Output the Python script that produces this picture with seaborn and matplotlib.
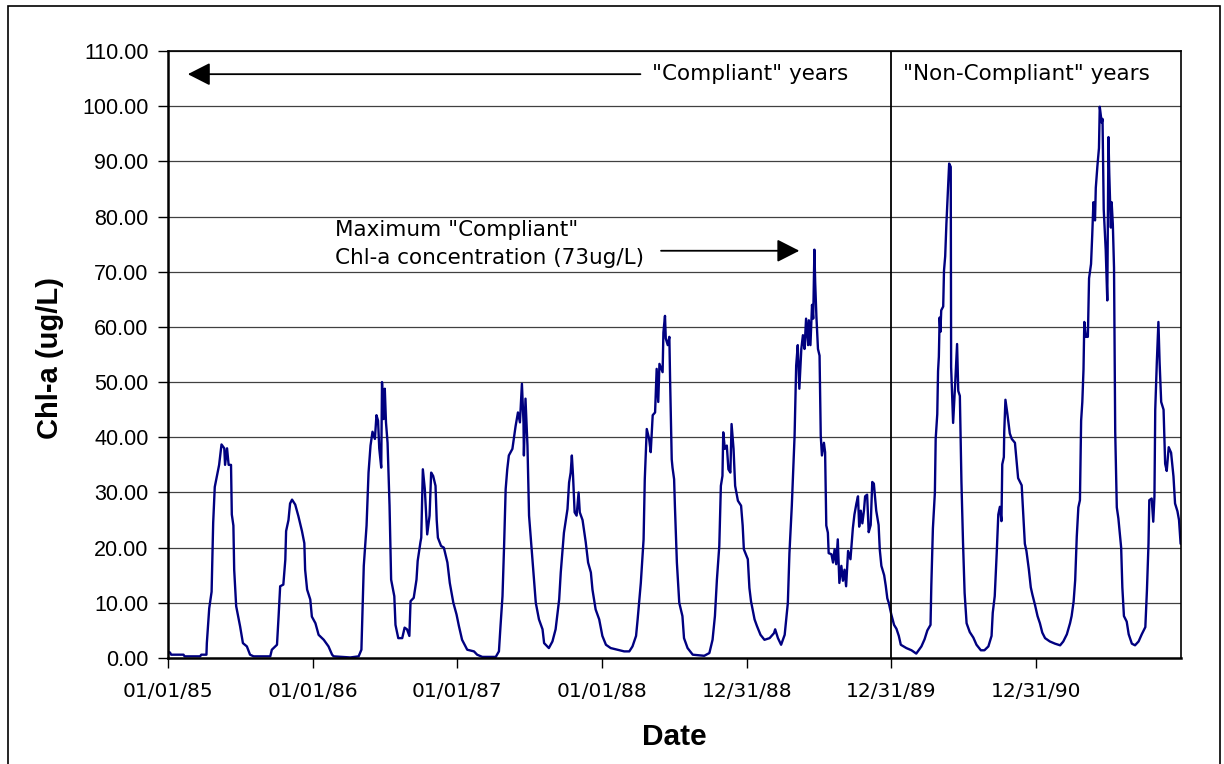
import matplotlib
matplotlib.use("Agg")
import matplotlib.pyplot as plt
import matplotlib.dates as mdates
from matplotlib.patches import Rectangle
import seaborn as sns
import pandas as pd

# ---------------- data ----------------
start_date = "1985-01-01"
days = [0, 5, 8, 39, 42, 81, 84, 97, 98, 104, 110, 114, 118, 129, 135, 142, 144, 149, 153, 159, 161, 165, 167, 172, 182, 189, 199, 207, 216, 258, 262, 275, 279, 283, 291, 296, 298, 304, 308, 313, 321, 329, 338, 344, 346, 351, 359, 363, 372, 380, 393, 405, 414,
        418, 460, 481, 488, 490, 494, 501, 506, 511, 516, 522, 526, 530, 533, 538, 540, 544, 547, 550, 554, 559, 563, 571, 574, 581, 591, 597, 603, 609, 612, 620, 627, 630, 637, 639, 643, 648, 654, 660, 664, 669, 675, 678, 681, 689, 696, 705, 711, 720, 728, 734, 742, 755, 772, 780, 793, 827, 835, 839, 844, 848, 852, 856,
        860, 869, 877, 883, 888, 893, 897, 898, 902, 907, 911, 917, 923, 928, 936, 945, 949, 961, 970, 978, 987, 991, 999, 1008, 1012, 1016, 1019, 1022, 1026, 1031, 1036, 1039, 1046, 1054, 1060, 1067, 1071, 1079, 1088, 1096, 1105, 1117, 1134, 1151, 1164, 1172, 1181, 1185, 1193, 1200, 1203, 1208, 1214, 1218, 1223, 1229, 1233, 1237, 1240, 1248, 1250, 1254, 1256, 1261, 1265, 1267,
        1271, 1273, 1277, 1279, 1284, 1290, 1298, 1302, 1311, 1324, 1353, 1366, 1374, 1380, 1385, 1391, 1395, 1399, 1401, 1405, 1410, 1414, 1419, 1422, 1427, 1431, 1438, 1446, 1450, 1453, 1463, 1467, 1471, 1480, 1486, 1495, 1505, 1518, 1529, 1532, 1539, 1547, 1556, 1564, 1568, 1574, 1581, 1585, 1589, 1593, 1598, 1602, 1606, 1610, 1615, 1617, 1621, 1625, 1628, 1631, 1633, 1636, 1640, 1644, 1647, 1650, 1655, 1658, 1661, 1665, 1667, 1674, 1678, 1682, 1686, 1690, 1694, 1699, 1703, 1707, 1711, 1716, 1722,
        1728, 1732, 1737, 1741, 1744, 1748, 1752, 1756, 1759, 1764, 1768, 1773, 1777, 1781, 1787, 1793, 1796, 1800, 1807, 1811, 1815, 1819, 1825, 1832, 1838, 1844, 1849, 1863, 1876, 1888, 1901, 1909, 1916, 1924, 1926, 1930, 1935, 1937, 1941, 1943, 1945, 1947, 1949, 1951, 1956, 1958, 1961, 1964, 1968, 1971, 1975, 1976, 1981, 1986, 1991, 1994, 1998, 2002, 2006, 2010, 2015, 2023, 2032, 2040, 2051, 2060, 2070, 2078, 2081, 2086, 2091, 2095, 2099, 2103, 2105, 2109, 2110, 2113, 2118, 2124, 2129,
        2137, 2141, 2145, 2154, 2158, 2162, 2166, 2172, 2177, 2181, 2188, 2194, 2200, 2206, 2213, 2225, 2238, 2251, 2259, 2268, 2276, 2280, 2285, 2289, 2293, 2297, 2301, 2304, 2307, 2310, 2312, 2316, 2321, 2324, 2329, 2332, 2335, 2339, 2341, 2345, 2349, 2351, 2356, 2358, 2361, 2366, 2370, 2373, 2375, 2379, 2381, 2384, 2387, 2390, 2394, 2398, 2405, 2408, 2412, 2419, 2424, 2432, 2440, 2449, 2457, 2466, 2470, 2474, 2476, 2482, 2486, 2489, 2491, 2495, 2499, 2502, 2506, 2512, 2516, 2520, 2525, 2531, 2537, 2541, 2547, 2551, 2555]

chl_a = [1.1, 1.0, 0.6, 0.6, 0.3, 0.3, 0.6, 0.6, 2.7, 9.0, 12.0, 24.5, 31.0, 35.0, 38.7, 38.0, 35.0, 38.0, 35.0, 35.0, 26.0, 24.0, 16.0, 9.4, 5.7, 2.7, 2.1, 0.6, 0.3, 0.3, 1.5, 2.4, 7.5, 13.0, 13.3, 17.8, 23.0, 25.0, 28.0, 28.7, 27.8, 25.7, 23.0, 20.8, 16.0, 12.4, 10.6, 7.5, 6.3, 4.2, 3.3, 2.1, 0.6,
         0.3, 0.1, 0.3, 1.5, 6.7, 16.7, 24.0, 33.6, 38.5, 41.0, 39.7, 44.0, 43.0, 38.0, 34.5, 50.0, 43.3, 48.8, 42.7, 39.0, 27.6, 14.2, 11.2, 6.0, 3.6, 3.6, 5.5, 5.2, 4.0, 10.3, 10.9, 14.2, 17.6, 21.0, 21.8, 34.2, 30.6, 22.4, 25.8, 33.6, 33.0, 31.2, 25.0, 21.8, 20.3, 20.0, 17.3, 13.6, 10.0, 7.9, 5.8, 3.3, 1.5, 1.2, 0.6, 0.2, 0.2, 1.2, 5.8, 11.2, 20.3, 30.6, 34.2,
         36.7, 37.9, 42.0, 44.5, 42.7, 49.7, 42.7, 36.7, 47.0, 38.5, 25.8, 20.3, 14.8, 10.0, 7.0, 5.2, 2.7, 1.8, 3.0, 5.2, 10.6, 15.5, 22.7, 27.0, 31.8, 33.6, 36.7, 33.0, 26.4, 25.8, 30.0, 26.4, 25.0, 21.0, 17.3, 15.5, 12.4, 8.8, 7.0, 4.0, 2.4, 1.8, 1.5, 1.2, 1.2, 2.1, 4.0, 7.0, 13.6, 21.5, 32.4, 41.5, 39.7, 37.3, 44.0, 44.5, 52.4, 46.4, 53.3, 51.8, 59.0, 62.0, 57.9, 56.7, 58.2, 50.0,
         36.0, 34.5, 32.4, 27.6, 17.3, 10.0, 7.6, 3.6, 1.8, 0.6, 0.4, 0.9, 3.3, 7.6, 14.2, 20.3, 31.2, 33.0, 40.9, 37.9, 38.5, 34.2, 33.6, 42.4, 37.9, 31.2, 28.5, 27.6, 24.0, 19.7, 17.9, 12.7, 10.3, 7.0, 5.8, 4.2, 3.3, 3.6, 4.5, 5.2, 3.6, 2.4, 4.2, 10.0, 19.0, 27.6, 40.3, 53.0, 56.7, 48.8, 56.0, 58.5, 56.0, 61.5, 56.7, 61.2, 56.7, 64.0, 61.5, 74.0, 68.0, 62.0, 56.0, 54.8, 40.3, 36.7, 39.0, 37.3, 24.0, 22.7, 19.0, 18.8, 17.3, 19.7, 17.0, 21.5, 13.6, 16.7, 14.0, 16.0, 13.0, 19.4, 17.9,
         23.5, 26.0, 28.0, 29.3, 23.8, 26.7, 24.4, 26.7, 29.3, 29.6, 22.8, 24.1, 31.9, 31.6, 26.7, 24.1, 19.6, 16.7, 15.0, 13.1, 10.8, 9.9, 7.9, 6.0, 5.3, 4.0, 2.4, 1.8, 1.4, 0.8, 2.1, 3.4, 5.0, 6.0, 13.1, 23.5, 30.0, 39.7, 44.2, 52.0, 54.6, 61.7, 59.1, 63.0, 63.7, 70.2, 72.8, 78.6, 85.0, 89.6, 89.0, 52.7, 42.6, 49.4, 56.9, 48.4, 47.5, 31.9, 20.9, 11.8, 6.3, 4.7, 3.7, 2.4, 1.4, 1.4, 2.1, 4.0, 8.2, 11.2, 19.0, 26.0, 27.4, 24.8, 35.1, 36.4, 41.0, 46.8, 44.2, 40.7, 39.7,
         39.0, 35.9, 32.6, 31.3, 26.0, 20.7, 19.4, 16.1, 12.8, 11.5, 9.5, 7.6, 6.3, 4.6, 3.6, 3.0, 2.6, 2.3, 3.0, 4.3, 6.3, 7.6, 10.2, 14.1, 22.0, 27.3, 28.6, 43.0, 46.4, 52.3, 60.9, 58.2, 58.2, 68.8, 71.4, 76.6, 82.6, 79.3, 85.2, 89.1, 92.4, 99.9, 97.0, 97.7, 81.3, 74.0, 64.8, 94.4, 87.8, 78.0, 82.6, 78.6, 70.7, 41.0, 27.3, 25.3, 20.0, 12.8, 7.6, 6.6, 4.3, 2.6, 2.3, 3.0, 4.3, 5.6, 12.2, 20.7, 28.6, 28.9, 24.7, 29.3, 45.0, 53.6, 60.9, 53.6, 46.4, 45.0, 35.2, 33.9, 38.2, 37.2, 32.9, 28.0, 26.6, 25.0, 20.7]

x_tick_labels = ["01/01/85", "01/01/86", "01/01/87", "01/01/88",
                 "12/31/88", "12/31/89", "12/31/90"]
y_ticks = [0, 10, 20, 30, 40, 50, 60, 70, 80, 90, 100, 110]

divider_date = "1989-12-31"
compliant_label = '"Compliant" years'
noncompliant_label = '"Non-Compliant" years'
max_label_1 = 'Maximum "Compliant"'
max_label_2 = "Chl-a concentration (73ug/L)"
max_value = 73.8

# ---------------- styling ----------------
sns.set_style("white")
plt.rcParams["font.family"] = ["Liberation Sans", "DejaVu Sans"]
plt.rcParams["text.color"] = "black"
plt.rcParams["axes.labelcolor"] = "black"
WIDE = ["DejaVu Sans"]

W, H = 1224, 764
fig = plt.figure(figsize=(W / 100, H / 100), dpi=100)
L, R, T, B = 168, 1181, 51, 658
ax = fig.add_axes([L / W, 1 - B / H, (R - L) / W, (B - T) / H])

base = pd.Timestamp(start_date)
df = pd.DataFrame({
    "Date": base + pd.to_timedelta(days, unit="D"),
    "Chl": chl_a,
})

sns.lineplot(data=df, x="Date", y="Chl", ax=ax, color="#000080",
             linewidth=1.7, estimator=None, sort=False)

ax.set_xlim(mdates.date2num(base), mdates.date2num(base + pd.Timedelta(days=2556)))
ax.set_ylim(0, 110)

# ticks
tick_dates = [pd.to_datetime(s, format="%m/%d/%y") for s in x_tick_labels]
ax.set_xticks([mdates.date2num(d) for d in tick_dates])
ax.set_xticklabels(x_tick_labels, fontsize=14.5, family=WIDE, color="black")
ax.set_yticks(y_ticks)
ax.set_yticklabels([f"{v:.2f}" for v in y_ticks], fontsize=15.5, color="black")
ax.tick_params(axis="both", which="major", colors="black",
               direction="out", length=7, width=1.0, bottom=True, left=True)
ax.tick_params(axis="x", pad=10)
ax.tick_params(axis="y", pad=7)

ax.set_xlabel("")
ax.set_ylabel("")

# grid
ax.grid(False)
for v in y_ticks[1:]:
    ax.axhline(v, color="#404040", linewidth=0.9, zorder=0)

for side, sp in ax.spines.items():
    sp.set_visible(True)
    sp.set_color("black")
    sp.set_linewidth(1.2)
ax.spines["left"].set_linewidth(1.8)
ax.spines["bottom"].set_linewidth(1.8)

# divider line
ax.axvline(mdates.date2num(pd.Timestamp(divider_date)), color="black", linewidth=1.3)

# annotations
def dn(s):
    return mdates.date2num(pd.Timestamp(s))

arrow_style = "-|>,head_length=0.55,head_width=0.28"
ax.annotate("", xy=(dn("1985-02-20"), 105.8), xytext=(dn("1988-04-07"), 105.8),
            arrowprops=dict(arrowstyle=arrow_style, mutation_scale=25,
                            color="black", lw=1.3, shrinkA=0, shrinkB=0))
ax.text(dn("1988-05-05"), 105.8, compliant_label, fontsize=15.5, family=WIDE,
        ha="left", va="center", color="black")
ax.text(dn("1990-01-29"), 105.8, noncompliant_label, fontsize=15.5, family=WIDE,
        ha="left", va="center", color="black")

ax.text(dn("1986-02-26"), 77.6, max_label_1, fontsize=15.5, family=WIDE,
        ha="left", va="center", color="black")
ax.text(dn("1986-02-26"), 72.4, max_label_2, fontsize=15.5, family=WIDE,
        ha="left", va="center", color="black")
ax.annotate("", xy=(dn("1989-05-13"), max_value), xytext=(dn("1988-05-29"), max_value),
            arrowprops=dict(arrowstyle=arrow_style, mutation_scale=25,
                            color="black", lw=1.3, shrinkA=0, shrinkB=0))

# axis titles
fig.text(50 / W, 1 - 358 / H, "Chl-a (ug/L)", rotation=90, fontsize=21,
         fontweight="bold", ha="center", va="center", color="black")
fig.text(674 / W, 1 - 737 / H, "Date", fontsize=21.5, fontweight="bold",
         ha="center", va="center", color="black")

# outer chart border
fig.patches.append(Rectangle((8 / W, -0.05), (1220 - 8) / W, (1 - 6 / H) + 0.05,
                             transform=fig.transFigure, fill=False,
                             edgecolor="black", linewidth=1.2))

fig.savefig("out.png", dpi=100)
